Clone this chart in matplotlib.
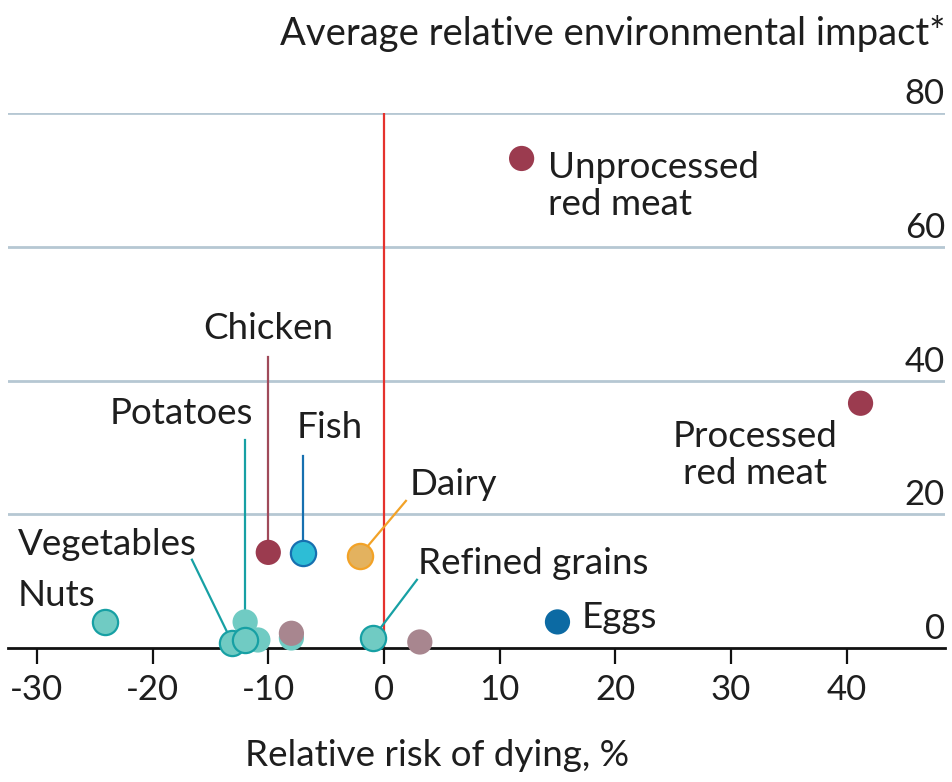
import matplotlib.pyplot as plt
from matplotlib.transforms import blended_transform_factory

plt.rcParams['font.family'] = ['Lato', 'DejaVu Sans']

# values
x_ticks = [-30, -20, -10, 0, 10, 20, 30, 40]
y_ticks = [0, 20, 40, 60, 80]

meat_names = ['Unprocessed red meat', 'Processed red meat', 'Chicken']
meat_risk = [11.9, 41.2, -10.0]
meat_impact = [73.2, 36.6, 14.3]

fish_risk, fish_impact = -7.0, 14.2
dairy_risk, dairy_impact = -2.1, 13.8
eggs_risk, eggs_impact = 15.0, 3.9

plant_names = ['Nuts', 'Vegetables', 'Potatoes', 'Refined grains']
plant_risk = [-24.1, -13.1, -12.0, -0.95]
plant_impact = [3.9, 0.75, 1.2, 1.5]

other_plant_risk = [-12.0, -10.9, -8.0]
other_plant_impact = [3.9, 1.2, 1.5]

other_risk = [-8.0, 3.1]
other_impact = [2.2, 0.9]

# colours
maroon = '#9b3b4f'
teal_fill = '#70cbc3'
teal_edge = '#17a0a4'
fish_fill = '#2dbdd6'
fish_edge = '#1670b0'
dairy_fill = '#e3b25f'
dairy_edge = '#f2a227'
mauve = '#a8868f'
egg_blue = '#0c6aa3'
grid_col = '#b6c7d3'
red = '#e5322d'
txt = '#1e1e1e'

fs = 26.5

fig = plt.figure(figsize=(9.52, 7.82), dpi=100)
ax = fig.add_axes([8/952, 1 - 648/782, 937/952, (648 - 113)/782])
ax.set_xlim(-32.5, 48.5)
ax.set_ylim(0, 80)

for s in ['top', 'left', 'right']:
    ax.spines[s].set_visible(False)
ax.spines['bottom'].set_linewidth(2.0)
ax.spines['bottom'].set_color('#111111')
ax.spines['bottom'].set_zorder(2)

ax.set_yticks([])
ax.set_xticks(x_ticks)
ax.set_xticklabels([str(t) for t in x_ticks])
ax.tick_params(axis='x', direction='out', length=11.5, width=1.6, color='#111111',
               pad=7, labelsize=25, labelcolor=txt)

# gridlines + y labels on the right, sitting above the lines
ytr = blended_transform_factory(ax.transAxes, ax.transData)
for t in y_ticks:
    if t > 0:
        ax.axhline(t, color=grid_col, lw=2.0, zorder=1)
    ax.annotate(str(t), xy=(1.0, t), xycoords=ytr, xytext=(0, 2),
                textcoords='offset points', ha='right', va='bottom',
                fontsize=25, color=txt)

ax.plot([0, 0], [0, 80], color=red, lw=1.6, zorder=1.5)

fig.text(945/952, 1 - 33/782, 'Average relative environmental impact*',
         ha='right', va='center', fontsize=27.5, color=txt)
fig.text(245/952, 1 - 755/782, 'Relative risk of dying, %',
         ha='left', va='center', fontsize=fs, color=txt)

ms = 330
# leader lines (start point is layout, end is the dot)
leaders = [
    ((-10.0, 43.5), (meat_risk[2], meat_impact[2]), '#a04a5a'),
    ((-12.0, 31.1), (plant_risk[2], plant_impact[2]), teal_edge),
    ((-7.0, 28.7), (fish_risk, fish_impact), fish_edge),
    ((1.9, 22.0), (dairy_risk, dairy_impact), dairy_edge),
    ((-16.6, 13.2), (plant_risk[1], plant_impact[1]), teal_edge),
    ((2.85, 10.2), (plant_risk[3], plant_impact[3]), teal_edge),
]
for start, end, c in leaders:
    ax.plot([start[0], end[0]], [start[1], end[1]], color=c, lw=1.6, zorder=2.5)

# dots
ax.scatter(other_plant_risk, other_plant_impact, s=ms, color=teal_fill,
           edgecolor='none', zorder=3, clip_on=False)
ax.scatter(other_risk, other_impact, s=ms, color=mauve, edgecolor='none',
           zorder=3.2, clip_on=False)
ax.scatter(plant_risk[1], plant_impact[1], s=ms, color=teal_fill,
           edgecolor=teal_edge, linewidth=1.6, zorder=3.1, clip_on=False)
ax.scatter([plant_risk[0], plant_risk[3]], [plant_impact[0], plant_impact[3]], s=ms,
           color=teal_fill, edgecolor=teal_edge, linewidth=1.6, zorder=3.3, clip_on=False)
ax.scatter(plant_risk[2], plant_impact[2], s=ms, color=teal_fill,
           edgecolor=teal_edge, linewidth=1.6, zorder=3.4, clip_on=False)
ax.scatter(meat_risk, meat_impact, s=ms, color=maroon, edgecolor='none', zorder=3)
ax.scatter(fish_risk, fish_impact, s=ms, color=fish_fill, edgecolor=fish_edge,
           linewidth=1.6, zorder=3)
ax.scatter(dairy_risk, dairy_impact, s=ms, color=dairy_fill, edgecolor=dairy_edge,
           linewidth=1.6, zorder=3)
ax.scatter(eggs_risk, eggs_impact, s=ms, color=egg_blue, edgecolor='none', zorder=3)

# labels
lab = dict(fontsize=fs, color=txt, linespacing=1.15)
ax.text(14.2, 69.1, 'Unprocessed\nred meat', ha='left', va='center', **lab)
ax.text(32.1, 28.9, 'Processed\nred meat', ha='center', va='center', **lab)
ax.text(-10.0, 47.8, 'Chicken', ha='center', va='center', **lab)
ax.text(-17.5, 35.0, 'Potatoes', ha='center', va='center', **lab)
ax.text(-4.7, 32.9, 'Fish', ha='center', va='center', **lab)
ax.text(6.0, 24.4, 'Dairy', ha='center', va='center', **lab)
ax.text(-23.9, 15.5, 'Vegetables', ha='center', va='center', **lab)
ax.text(-28.3, 7.9, 'Nuts', ha='center', va='center', **lab)
ax.text(12.9, 12.7, 'Refined grains', ha='center', va='center', **lab)
ax.text(17.1, 4.6, 'Eggs', ha='left', va='center', **lab)

fig.savefig('out.png', dpi=100, facecolor='white')
